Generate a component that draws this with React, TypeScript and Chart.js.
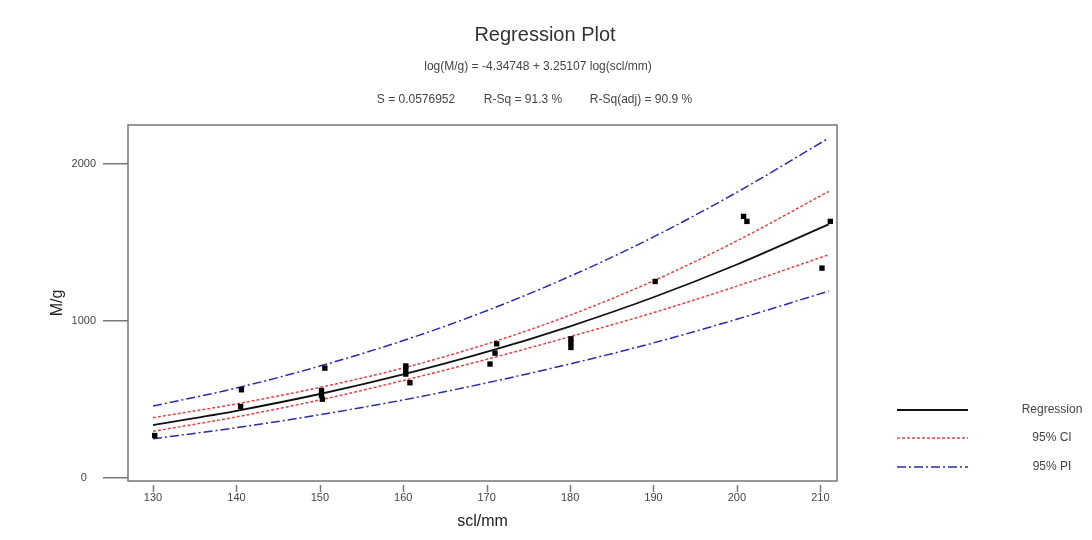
import React, { useEffect, useRef } from "react";
import { Chart, registerables } from "chart.js";

Chart.register(...registerables);

// Fitted curve and bands
const curveX = [130, 140, 150, 160, 170, 180, 190, 200, 211];
const fitY = [335, 426, 533, 658, 801, 965, 1150, 1359, 1615];
const ciUpper = [382, 470, 575, 699, 852, 1036, 1255, 1510, 1825];
const ciLower = [295, 387, 495, 619, 754, 899, 1052, 1221, 1421];
const piUpper = [456, 571, 711, 874, 1064, 1284, 1535, 1820, 2165];
const piLower = [247, 318, 401, 495, 604, 725, 859, 1010, 1189];

// Observations
const sclMm = [130.2, 140.6, 140.5, 150.6, 150.2, 150.2, 150.3, 160.3, 160.3, 160.3, 160.8, 170.4, 171.0, 171.2, 180.1, 180.1, 180.1, 190.2, 200.8, 201.2, 210.2, 211.2];
const massG = [268, 560, 453, 698, 555, 525, 500, 712, 688, 660, 605, 724, 794, 853, 885, 860, 830, 1251, 1666, 1634, 1336, 1634];

// Axis ticks
const xTicks = [130, 140, 150, 160, 170, 180, 190, 200, 210];
const yTicks = [0, 1000, 2000];

const titleText = "Regression Plot";
const formulaText = "log(M/g) = -4.34748 + 3.25107 log(scl/mm)";
const statTexts = ["S = 0.0576952", "R-Sq = 91.3 %", "R-Sq(adj) = 90.9 %"];
const legendLabels = ["Regression", "95% CI", "95% PI"];

const FONT = "'Liberation Sans', Arial, sans-serif";
const RED = "#e04444";
const BLUE = "#2a2aaa";
const BLACK = "#111111";
const DASH_CI = [3, 2];
const DASH_PI = [9, 3, 2, 3];

export default function App() {
  const ref = useRef<HTMLCanvasElement>(null);

  useEffect(() => {
    document.body.style.margin = "0";
    const canvas = ref.current;
    if (!canvas) return;
    Chart.defaults.font.family = FONT;

    const curve = (ys: number[]) => curveX.map((x, i) => ({ x, y: ys[i] }));
    const lineDs = (label: string, ys: number[], color: string, dash: number[], width: number) => ({
      label,
      data: curve(ys),
      showLine: true,
      borderColor: color,
      backgroundColor: color,
      borderDash: dash,
      borderWidth: width,
      pointRadius: 0,
      pointHoverRadius: 0,
      cubicInterpolationMode: "monotone" as const,
      fill: false,
    });

    const decor = {
      id: "decor",
      afterDraw(chart: any) {
        const ctx = chart.ctx as CanvasRenderingContext2D;
        const a = chart.chartArea;
        const xs = chart.scales.x;
        ctx.save();
        // box
        ctx.strokeStyle = "#777";
        ctx.lineWidth = 1.5;
        ctx.setLineDash([]);
        ctx.strokeRect(a.left, a.top, a.right - a.left, a.bottom - a.top);
        // x tick marks (detached)
        ctx.beginPath();
        xTicks.forEach((v) => {
          const px = Math.round(xs.getPixelForValue(v)) + 0.5;
          ctx.moveTo(px, a.bottom + 4);
          ctx.lineTo(px, a.bottom + 11);
        });
        ctx.stroke();
        // titles
        ctx.fillStyle = "#333";
        ctx.textAlign = "center";
        ctx.textBaseline = "middle";
        ctx.font = `20px ${FONT}`;
        ctx.fillText(titleText, 545, 35);
        ctx.font = `12px ${FONT}`;
        ctx.fillStyle = "#444";
        ctx.fillText(formulaText, 538, 67);
        const statX = [416, 523, 641];
        statTexts.forEach((t, i) => ctx.fillText(t, statX[i], 100));
        // legend
        const rows = [410, 438, 467];
        const styles = [
          { c: BLACK, d: [] as number[], w: 2 },
          { c: RED, d: DASH_CI, w: 1.5 },
          { c: BLUE, d: DASH_PI, w: 1.5 },
        ];
        rows.forEach((y, i) => {
          ctx.beginPath();
          ctx.strokeStyle = styles[i].c;
          ctx.lineWidth = styles[i].w;
          ctx.setLineDash(styles[i].d);
          ctx.moveTo(897, y);
          ctx.lineTo(968, y);
          ctx.stroke();
          ctx.fillStyle = "#444";
          ctx.font = `12px ${FONT}`;
          ctx.fillText(legendLabels[i], 1052, y);
        });
        ctx.restore();
      },
    };

    const chart = new Chart(canvas, {
      type: "scatter",
      data: {
        datasets: [
          {
            label: "Observed",
            data: sclMm.map((x, i) => ({ x, y: massG[i] })),
            pointStyle: "rect",
            pointRadius: 3.8,
            pointHoverRadius: 3.8,
            backgroundColor: "#000",
            borderColor: "#000",
            borderWidth: 0,
            showLine: false,
          } as any,
          lineDs("Regression", fitY, BLACK, [], 1.8),
          lineDs("95% CI upper", ciUpper, RED, DASH_CI, 1.5),
          lineDs("95% CI lower", ciLower, RED, DASH_CI, 1.5),
          lineDs("95% PI upper", piUpper, BLUE, DASH_PI, 1.5),
          lineDs("95% PI lower", piLower, BLUE, DASH_PI, 1.5),
        ],
      },
      options: {
        animation: false,
        responsive: false,
        maintainAspectRatio: false,
        layout: { padding: { left: 0, right: 255, top: 125, bottom: 0 } },
        plugins: {
          legend: { display: false },
          tooltip: { enabled: false },
          title: { display: false },
        },
        scales: {
          x: {
            type: "linear",
            min: 127.0,
            max: 212.0,
            afterBuildTicks: (s: any) => {
              s.ticks = xTicks.map((v) => ({ value: v }));
            },
            afterFit: (s: any) => {
              s.height = 59;
            },
            grid: { display: false, drawTicks: false },
            border: { display: false },
            ticks: {
              padding: 10,
              color: "#444",
              font: { size: 11 },
              maxRotation: 0,
              autoSkip: false,
              callback: (v: any) => String(v),
            },
            title: {
              display: true,
              text: "scl/mm",
              color: "#222",
              font: { size: 16 },
              padding: { top: 0, bottom: 9 },
            },
          },
          y: {
            type: "linear",
            min: -22,
            max: 2249,
            afterBuildTicks: (s: any) => {
              s.ticks = yTicks.map((v) => ({ value: v }));
            },
            afterFit: (s: any) => {
              s.width = 128;
            },
            grid: { display: true, drawOnChartArea: false, drawTicks: true, tickLength: 25, color: "#777", lineWidth: 1.5 },
            border: { display: false },
            ticks: {
              padding: 7,
              crossAlign: "center",
              color: "#444",
              font: { size: 11 },
              callback: (v: any) => String(v),
            },
            title: {
              display: true,
              text: "M/g",
              color: "#222",
              font: { size: 16 },
              padding: { top: 48, bottom: 0 },
            },
          },
        },
      },
      plugins: [decor],
    });

    return () => chart.destroy();
  }, []);

  return (
    <div style={{ width: 1092, height: 540, background: "#fff" }}>
      <canvas ref={ref} width={1092} height={540} style={{ display: "block" }} />
    </div>
  );
}
